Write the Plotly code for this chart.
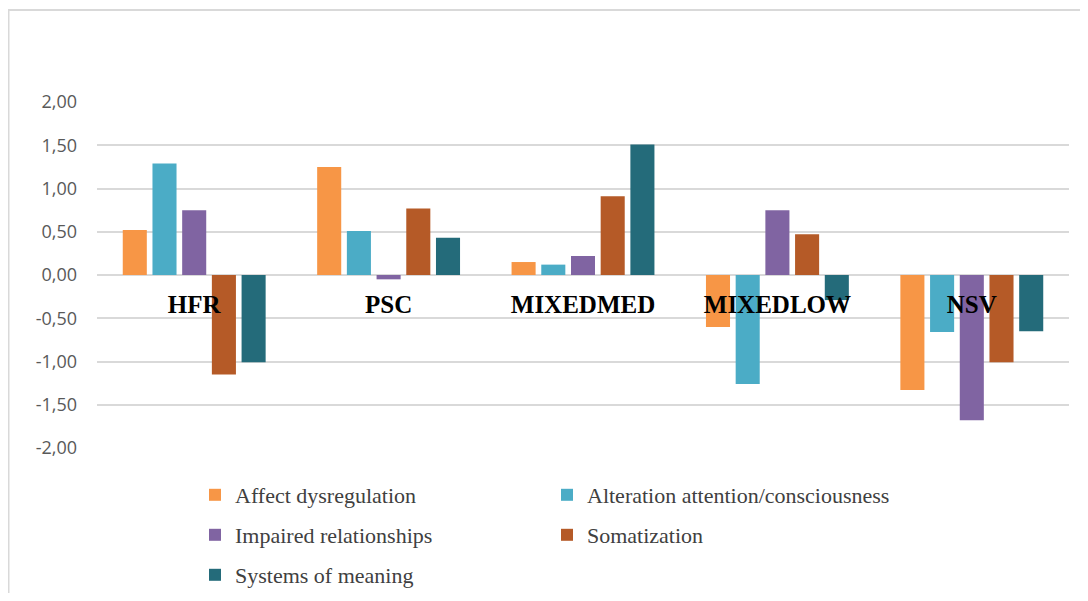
import plotly.graph_objects as go

categories = ["HFR", "PSC", "MIXEDMED", "MIXEDLOW", "NSV"]
series_names = [
    "Affect dysregulation",
    "Alteration attention/consciousness",
    "Impaired relationships",
    "Somatization",
    "Systems of meaning",
]
affect = [0.52, 1.25, 0.15, -0.60, -1.33]
alteration = [1.29, 0.51, 0.12, -1.26, -0.66]
impaired = [0.75, -0.05, 0.22, 0.75, -1.68]
somatization = [-1.15, 0.77, 0.91, 0.47, -1.01]
systems = [-1.01, 0.43, 1.51, -0.29, -0.65]
series_values = [affect, alteration, impaired, somatization, systems]
colors = ["#F79646", "#4BACC6", "#8064A2", "#B55A27", "#246B7A"]
legend_ids = ["legend", "legend", "legend2", "legend2", "legend3"]
y_ticks = [-2.0, -1.5, -1.0, -0.5, 0.0, 0.5, 1.0, 1.5, 2.0]
y_ticktext = [f"{v:.2f}".replace(".", ",") for v in y_ticks]

fig = go.Figure()
for name, vals, col, lg in zip(series_names, series_values, colors, legend_ids):
    fig.add_trace(go.Bar(
        x=categories, y=vals, name=name, legend=lg,
        marker=dict(color=col, line=dict(width=0)),
    ))

# page body has an 8px margin; compensate so the figure lands where intended
OFF = 8
W, H = 1088 - OFF, 601 - 2 * OFF
L = 97 - OFF
T = 102 - OFF
plot_right = 1069 - OFF
plot_bottom = 448 - OFF
R = W - plot_right
B = H - plot_bottom
pw, ph = plot_right - L, plot_bottom - T

def px_x(p):
    return (p - OFF - L) / pw

def px_y(p):
    return 1 - (p - OFF - T) / ph

legend_common = dict(
    orientation="h", xanchor="left", yanchor="middle",
    entrywidth=307, entrywidthmode="pixels",
    font=dict(family="Liberation Serif", size=22, color="#404040"),
    bgcolor="rgba(0,0,0,0)", itemclick=False, itemdoubleclick=False,
)

fig.update_layout(
    width=W, height=H,
    margin=dict(l=L, r=R, t=T, b=B, autoexpand=False),
    paper_bgcolor="white", plot_bgcolor="white",
    barmode="group", bargap=0.236, bargroupgap=0.19,
    showlegend=True,
    legend=dict(x=px_x(195), y=px_y(495), **legend_common),
    legend2=dict(x=px_x(195), y=px_y(535), **legend_common),
    legend3=dict(x=px_x(195), y=px_y(575), **legend_common),
    xaxis=dict(
        type="category", anchor="free", position=0.5,
        showline=False, showgrid=False, zeroline=False, ticks="",
        ticklabelstandoff=12,
        tickfont=dict(family="Liberation Serif", size=25, color="#000000", weight="bold"),
    ),
    yaxis=dict(
        range=[-2, 2], tickmode="array", tickvals=y_ticks, ticktext=y_ticktext,
        showgrid=True, gridcolor="#d9d9d9", gridwidth=1.5,
        zeroline=True, zerolinecolor="#d9d9d9", zerolinewidth=1.5,
        showline=False, ticks="", ticklabelstandoff=19,
        tickfont=dict(family="Open Sans", size=18, color="#595959"),
    ),
    shapes=[
        dict(type="line", xref="paper", yref="paper",
             x0=px_x(8), x1=px_x(1088), y0=px_y(10), y1=px_y(10),
             line=dict(color="#d9d9d9", width=2)),
        dict(type="line", xref="paper", yref="paper",
             x0=px_x(8.5), x1=px_x(8.5), y0=px_y(10), y1=px_y(601),
             line=dict(color="#d9d9d9", width=2)),
    ],
)

fig.write_html("out.html")
